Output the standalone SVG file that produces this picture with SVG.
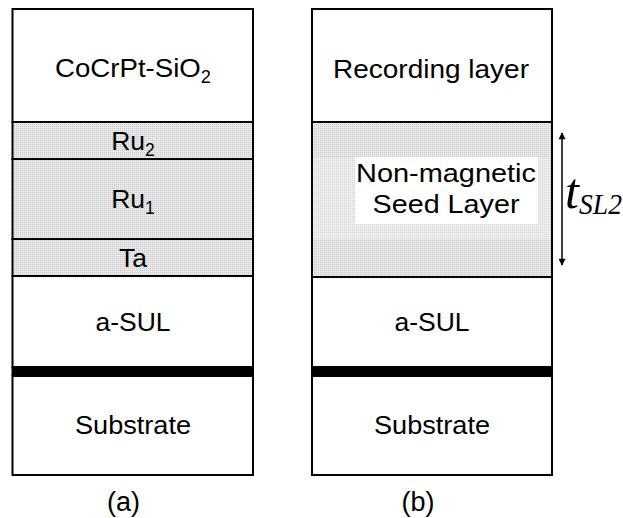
<svg xmlns="http://www.w3.org/2000/svg" width="623" height="518" viewBox="0 0 623 518">
  <defs>
    <!-- fine stipple used for the non-magnetic seed layers -->
    <pattern id="stipple" width="2" height="2" patternUnits="userSpaceOnUse">
      <rect width="2" height="2" fill="#e8e8e8"/>
      <rect width="1" height="1" fill="#c8c8c8"/>
    </pattern>
    <pattern id="stippleLight" width="2" height="2" patternUnits="userSpaceOnUse">
      <rect width="2" height="2" fill="#eeeeee"/>
      <rect width="1" height="1" fill="#d6d6d6"/>
    </pattern>
    <marker id="tip" viewBox="0 0 10 10" refX="9" refY="5" markerWidth="10" markerHeight="7" markerUnits="userSpaceOnUse" orient="auto-start-reverse">
      <path d="M0,0 L10,5 L0,10 Z" fill="#000"/>
    </marker>
  </defs>
  <style>
    .layer { stroke: #000; stroke-width: 2; }
    .plain { fill: #fff; }
    .seed { fill: url(#stipple); }
    .lbl { font-family: "Liberation Sans", Arial, sans-serif; font-size: 26.5px; fill: #000; text-anchor: middle; }
    .sub { font-size: 17.5px; }
    .cap { font-family: "Liberation Sans", Arial, sans-serif; font-size: 27px; fill: #000; text-anchor: middle; }
    .sym { font-family: "Liberation Serif", "Times New Roman", serif; font-style: italic; fill: #000; }
  </style>

  <rect width="623" height="518" fill="#fff"/>

  <!-- stack (a) -->
  <g id="a-recording">
    <rect class="layer plain" x="12.5" y="9" width="240.5" height="113"/>
    <text class="lbl" x="133" y="77" textLength="156" lengthAdjust="spacingAndGlyphs">CoCrPt-SiO<tspan class="sub" dy="6">2</tspan></text>
  </g>
  <g id="a-ru2">
    <rect class="layer seed" x="12.5" y="122" width="240.5" height="37"/>
    <text class="lbl" x="133" y="150">Ru<tspan class="sub" dy="6">2</tspan></text>
  </g>
  <g id="a-ru1">
    <rect class="layer seed" x="12.5" y="159" width="240.5" height="80"/>
    <text class="lbl" x="133" y="208">Ru<tspan class="sub" dy="6">1</tspan></text>
  </g>
  <g id="a-ta">
    <rect class="layer seed" x="12.5" y="239" width="240.5" height="37"/>
    <text class="lbl" x="133" y="266.5">Ta</text>
  </g>
  <g id="a-sul">
    <rect class="layer plain" x="12.5" y="276" width="240.5" height="91"/>
    <text class="lbl" x="133" y="331">a-SUL</text>
  </g>
  <g id="a-interface">
    <rect x="11.5" y="367" width="242.5" height="9" fill="#000"/>
  </g>
  <g id="a-substrate">
    <rect class="layer plain" x="12.5" y="376" width="240.5" height="99"/>
    <text class="lbl" x="133" y="434" textLength="116" lengthAdjust="spacingAndGlyphs">Substrate</text>
  </g>
  <text class="cap" x="123.5" y="511">(a)</text>

  <!-- stack (b) -->
  <g id="b-recording">
    <rect class="layer plain" x="312" y="9" width="240" height="113"/>
    <text class="lbl" x="431" y="78" textLength="196" lengthAdjust="spacingAndGlyphs">Recording layer</text>
  </g>
  <g id="b-seed">
    <rect class="layer seed" x="312" y="122" width="240" height="155"/>
    <rect x="313" y="158" width="237" height="81" fill="url(#stippleLight)"/>
    <rect x="355" y="157" width="183" height="67" fill="#fff"/>
    <text class="lbl" x="446" y="182" textLength="180" lengthAdjust="spacingAndGlyphs">Non-magnetic</text>
    <text class="lbl" x="446" y="213" textLength="147" lengthAdjust="spacingAndGlyphs">Seed Layer</text>
  </g>
  <g id="b-sul">
    <rect class="layer plain" x="312" y="277" width="240" height="90"/>
    <text class="lbl" x="432" y="331">a-SUL</text>
  </g>
  <g id="b-interface">
    <rect x="311" y="367" width="242" height="9" fill="#000"/>
  </g>
  <g id="b-substrate">
    <rect class="layer plain" x="312" y="376" width="240" height="99"/>
    <text class="lbl" x="432" y="434" textLength="116" lengthAdjust="spacingAndGlyphs">Substrate</text>
  </g>
  <text class="cap" x="418" y="511">(b)</text>

  <!-- thickness dimension for the seed layer -->
  <g id="connectors">
    <line x1="562" y1="133" x2="562" y2="265" stroke="#000" stroke-width="1.5" marker-start="url(#tip)" marker-end="url(#tip)"/>
  </g>
  <g id="t-sl2">
    <text class="sym" x="565" y="208" font-size="50">t</text>
    <text class="sym" x="579" y="214" font-size="29" textLength="43" lengthAdjust="spacingAndGlyphs">SL2</text>
  </g>
</svg>
